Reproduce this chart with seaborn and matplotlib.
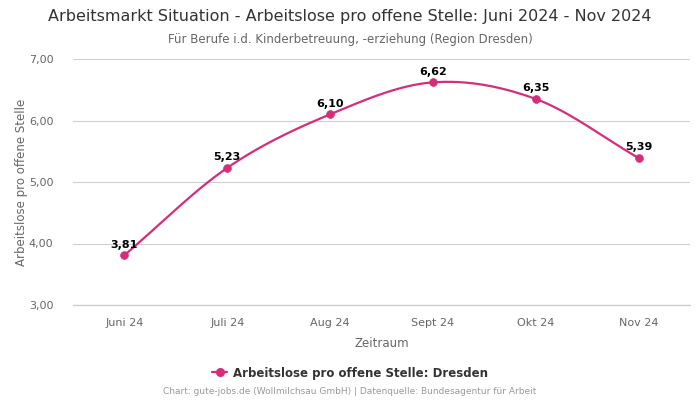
import numpy as np
import pandas as pd
import matplotlib
matplotlib.use("Agg")
import matplotlib.pyplot as plt
import seaborn as sns
from matplotlib.lines import Line2D

categories = ["Juni 24", "Juli 24", "Aug 24", "Sept 24", "Okt 24", "Nov 24"]
values = [3.81, 5.23, 6.10, 6.62, 6.35, 5.39]
value_labels = ["3,81", "5,23", "6,10", "6,62", "6,35", "5,39"]
yticks = [3.0, 4.0, 5.0, 6.0, 7.0]
ytick_labels = ["3,00", "4,00", "5,00", "6,00", "7,00"]
series_name = "Arbeitslose pro offene Stelle: Dresden"

sns.set_style("white")
plt.rcParams["font.family"] = ["DejaVu Sans"]

color = "#d42e7a"

fig = plt.figure(figsize=(7, 4), dpi=100)
ax = fig.add_axes([73 / 700, 1 - 305 / 400, (690 - 73) / 700, (305 - 59) / 400])

x = np.arange(len(values), dtype=float)
y = np.array(values)

# smooth rendering (cubic Hermite, Catmull-Rom tangents)
m = np.zeros_like(y)
m[1:-1] = (y[2:] - y[:-2]) / 2
m[0] = y[1] - y[0]
m[-1] = y[-1] - y[-2]
xs, ys = [], []
for i in range(len(y) - 1):
    t = np.linspace(0, 1, 40)
    h00 = 2 * t**3 - 3 * t**2 + 1
    h10 = t**3 - 2 * t**2 + t
    h01 = -2 * t**3 + 3 * t**2
    h11 = t**3 - t**2
    seg = h00 * y[i] + h10 * m[i] + h01 * y[i + 1] + h11 * m[i + 1]
    xs.extend(x[i] + t)
    ys.extend(seg)
smooth = pd.DataFrame({"x": xs, "y": ys})
pts = pd.DataFrame({"x": x, "y": y})

sns.lineplot(data=smooth, x="x", y="y", ax=ax, color=color, lw=1.6, sort=False)
sns.scatterplot(data=pts, x="x", y="y", ax=ax, color=color, s=32, edgecolor=color, zorder=5)

for xi, yi, lab in zip(x, y, value_labels):
    ax.annotate(lab, (xi, yi), xytext=(0, 4), textcoords="offset points",
                ha="center", va="bottom", fontsize=8, fontweight="bold", color="#000000")

ax.set_xlim(-0.5, len(values) - 0.5)
ax.set_ylim(3.0, 7.0)
ax.set_yticks(yticks)
ax.set_yticklabels(ytick_labels)
ax.set_xticks(x)
ax.set_xticklabels(categories)
ax.tick_params(axis="both", colors="#666666", labelsize=8, length=0)
ax.tick_params(axis="x", pad=9)
ax.tick_params(axis="y", pad=14)
ax.grid(axis="y", color="#d0d0d0", lw=0.8)
ax.grid(axis="x", visible=False)
for s in ax.spines.values():
    s.set_visible(False)
ax.axhline(3.0, color="#c8cfdc", lw=1, zorder=1, clip_on=False)

ax.set_xlabel("Zeitraum", color="#666666", fontsize=8.5, labelpad=7)
ax.set_ylabel("Arbeitslose pro offene Stelle", color="#666666", fontsize=8.5, labelpad=1)

fig.text(0.5, 1 - 17 / 400, "Arbeitsmarkt Situation - Arbeitslose pro offene Stelle: Juni 2024 - Nov 2024",
         ha="center", va="center", fontsize=11.5, color="#333333")
fig.text(0.5, 1 - 39 / 400, "Für Berufe i.d. Kinderbetreuung, -erziehung (Region Dresden)",
         ha="center", va="center", fontsize=8.5, color="#666666")

handle = Line2D([0], [0], color=color, lw=1.6, marker="o", markersize=5.5)
fig.legend([handle], [series_name], loc="center", bbox_to_anchor=(0.5, 1 - 373 / 400),
           frameon=False, prop={"size": 8.5, "weight": "bold"}, labelcolor="#333333",
           handlelength=1.2, handletextpad=0.5)

fig.text(0.5, 1 - 392 / 400, "Chart: gute-jobs.de (Wollmilchsau GmbH) | Datenquelle: Bundesagentur für Arbeit",
         ha="center", va="center", fontsize=6.45, color="#999999")

fig.savefig("out.png", dpi=100)
